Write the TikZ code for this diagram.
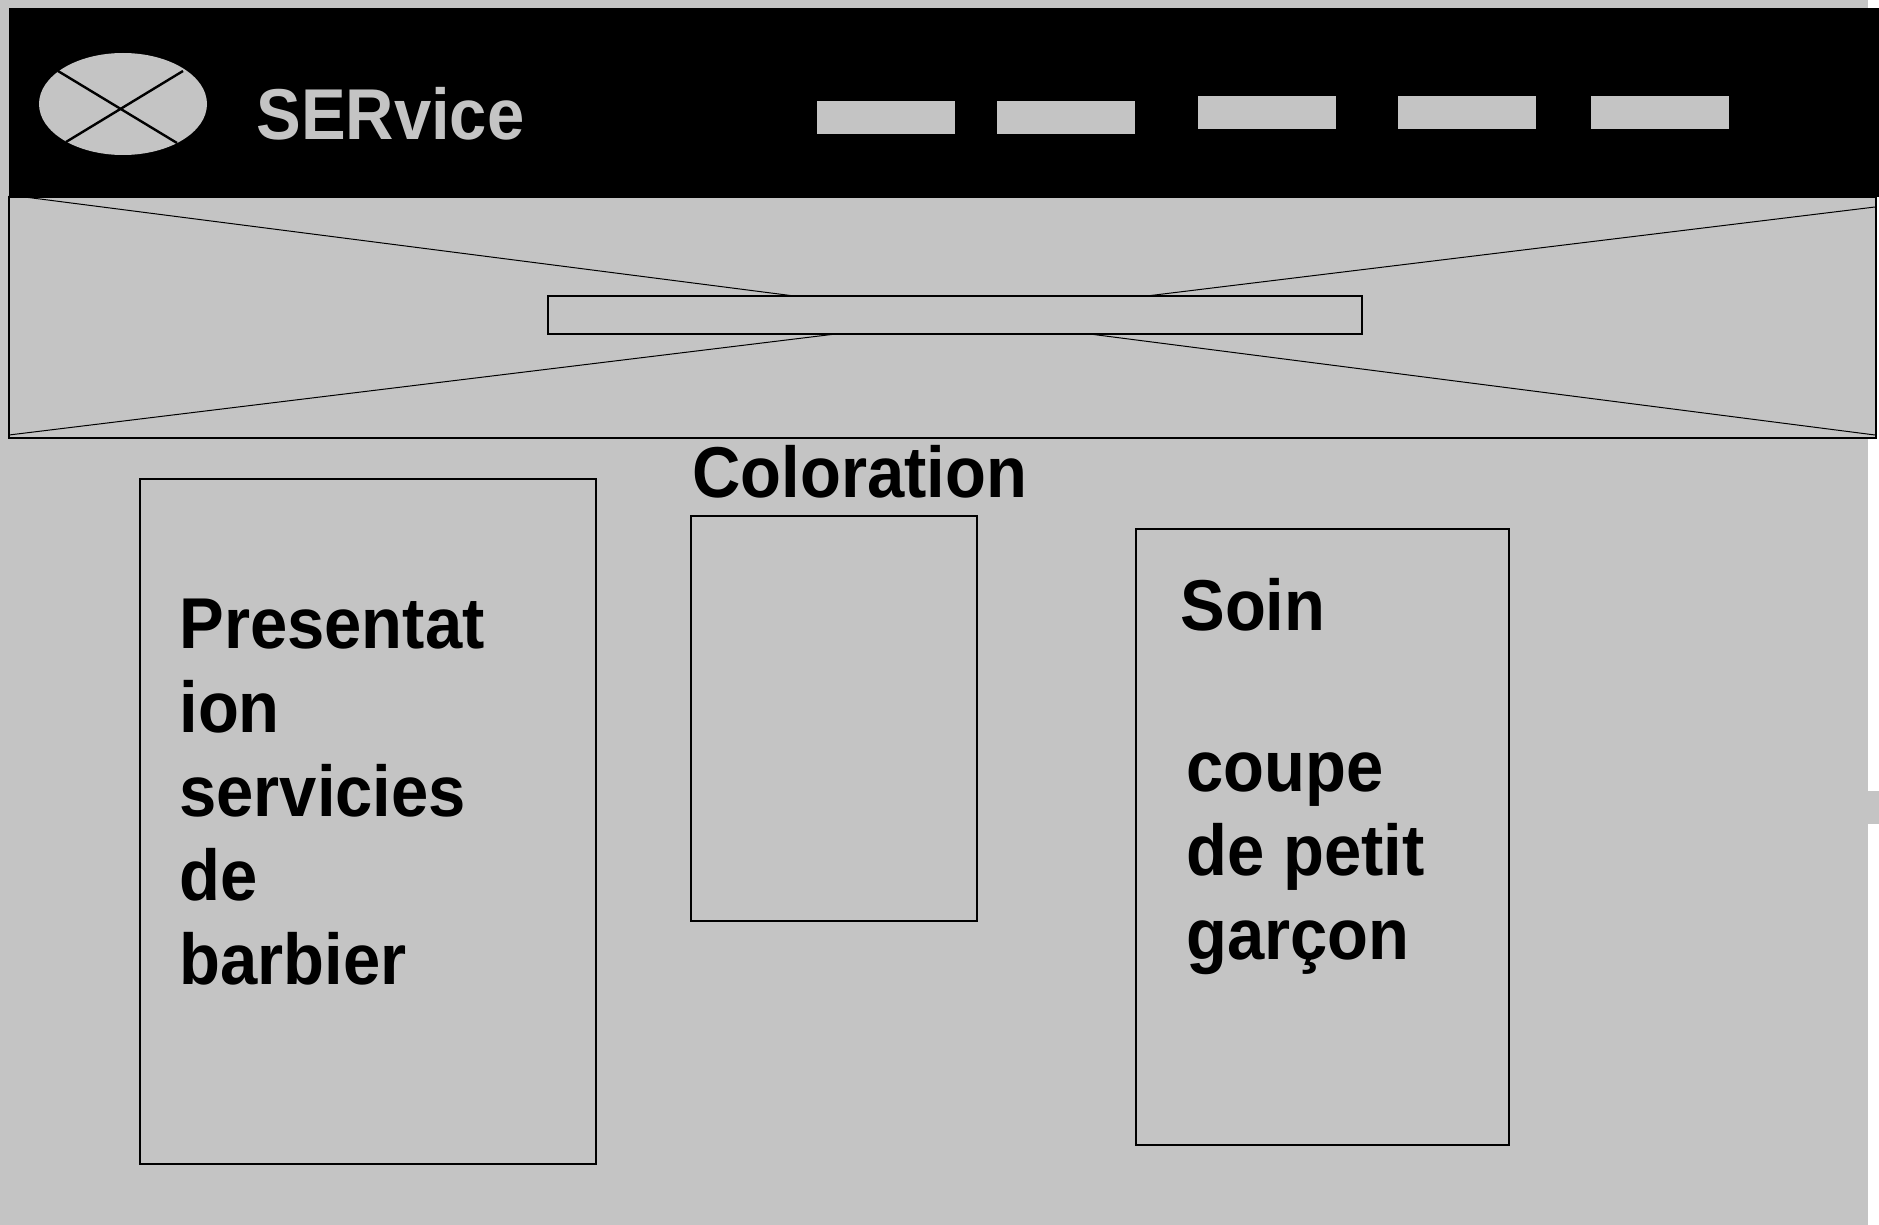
\documentclass[tikz,border=0pt]{standalone}
\usepackage{fontspec}
\newfontfamily\wirefont[FakeStretch=0.93]{Liberation Sans}
\definecolor{wiregray}{HTML}{C4C4C4}
\tikzset{
  box/.style={draw=black, line width=1pt},
  wiretext/.style={font=\wirefont\bfseries\fontsize{36}{42}\selectfont, inner sep=0pt, anchor=base west, align=left},
}
\begin{document}
\begin{tikzpicture}[x=0.5pt, y=-0.5pt]
        \useasboundingbox (0,0) rectangle (1879,1225);
        % Page background
        \fill[wiregray] (0,0) rectangle (1868,1225);
        \fill[wiregray] (1868,791) rectangle (1879,824);

        % Header with logo and title
        \fill[black] (9,8) rectangle (1879,197);
        \fill[wiregray] (123,104) ellipse (84 and 51);
        \draw[line width=1.2pt] (58,71) -- (177,143);
        \draw[line width=1.2pt] (183,71) -- (66,142);
        \node[wiretext, text=wiregray] (brand) at (256,140) {SERvice};

        % Menu items
        \foreach \x/\y in {817/101, 997/101, 1198/96, 1398/96, 1591/96}
            \fill[wiregray] (\x,\y) rectangle ++(138,33);

        % Hero image with search bar
        \draw[fill=wiregray, line width=1pt] (9,197) rectangle (1876,438);
        \draw[line width=0.5pt] (9,195) -- (1875,435);
        \draw[line width=0.5pt] (9,435) -- (1875,207);
        \draw[fill=wiregray, line width=1.4pt] (548,296) rectangle (1362,334);

        % Service cards (multi-line texts sit on their last baseline)
        \draw[box] (140,479) rectangle (596,1164);
        \node[wiretext] (presentation) at (179,984) {Presentat\\ion\\servicies\\de\\barbier};

        \node[wiretext] (coloration) at (692,497) {Coloration};
        \draw[box] (691,516) rectangle (977,921);

        \draw[box] (1136,529) rectangle (1509,1145);
        \node[wiretext] (soin) at (1180,630) {Soin};
        \node[wiretext] (coupe) at (1186,959) {coupe\\de petit\\garçon};
    \end{tikzpicture}
\end{document}
